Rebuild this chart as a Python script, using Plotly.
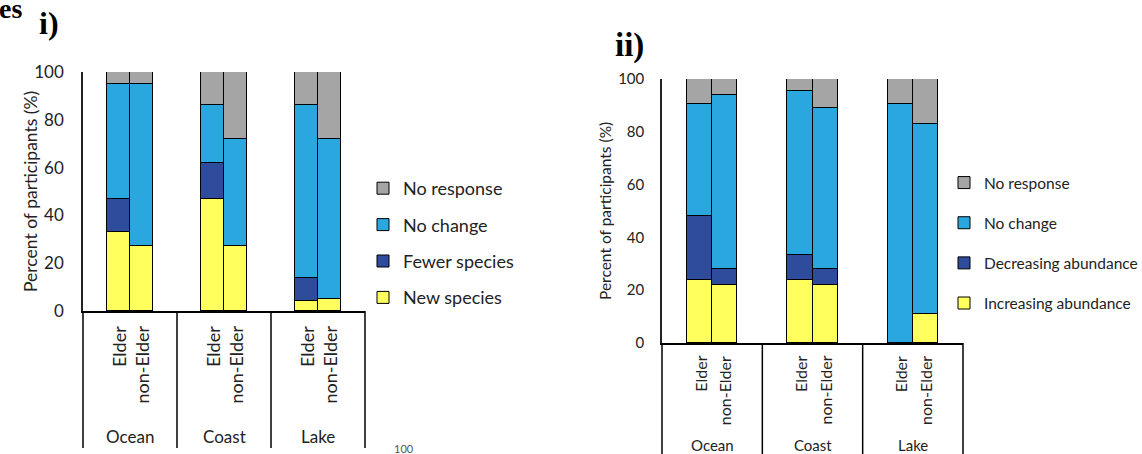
import plotly.graph_objects as go

W, H = 1142, 454

groups = ["Ocean", "Coast", "Lake"]
subgroups = ["Elder", "non-Elder"]

# Panel i values (order: Ocean E, Ocean nE, Coast E, Coast nE, Lake E, Lake nE)
i_new_species = [33, 27, 47, 27, 4, 5]
i_fewer_species = [14, 0, 15, 0, 10, 0]
i_no_change = [48, 68, 24, 45, 72, 67]
i_no_response = [5, 5, 14, 28, 14, 28]

# Panel ii values
ii_increasing = [24, 22, 24, 22, 0, 11]
ii_decreasing = [24, 6, 9.5, 6, 0, 0]
ii_no_change = [42.5, 66, 62, 61, 90.5, 72]
ii_no_response = [9.5, 6, 4.5, 11, 9.5, 17]

c_yellow = "#FFFF5E"
c_light = "#29A7DE"
c_dark = "#2F4C9C"
c_gray = "#A5A5A5"

FONT = "Lato"
TXT = "#222222"

def fx(p):
    return p / W

def fy(p):
    return 1 - p / H

# panel geometry (pixels)
P1 = dict(x0=83, x1=365, y0=72, y1=311, bw=0.245)
P2 = dict(x0=662, x1=963, y0=79, y1=343, bw=0.25)

fig = go.Figure()

def xpos(bw):
    xs = []
    for g in range(len(groups)):
        xs.append(g + 0.5 - bw / 2)
        xs.append(g + 0.5 + bw / 2)
    return xs

def add_panel(series, names, colors, xa, ya, legend, bw):
    xs = xpos(bw)
    n = len(series)
    for k, (vals, name, col) in enumerate(zip(series, names, colors)):
        fig.add_trace(go.Bar(
            x=xs, y=vals, name=name, width=bw,
            marker=dict(color=col, line=dict(color="black", width=1)),
            xaxis=xa, yaxis=ya, legend=legend, legendgroup=legend + name,
            legendrank=n - k, hoverinfo="skip",
        ))

add_panel([i_new_species, i_fewer_species, i_no_change, i_no_response],
          ["New species", "Fewer species", "No change", "No response"],
          [c_yellow, c_dark, c_light, c_gray], "x", "y", "legend", P1["bw"])
add_panel([ii_increasing, ii_decreasing, ii_no_change, ii_no_response],
          ["Increasing abundance", "Decreasing abundance", "No change", "No response"],
          [c_yellow, c_dark, c_light, c_gray], "x2", "y2", "legend2", P2["bw"])

def xaxis_cfg(P, anchor):
    return dict(domain=[fx(P["x0"]), fx(P["x1"])], range=[0, 3], showgrid=False,
                zeroline=False, showticklabels=False, ticks="", showline=True,
                linecolor="black", linewidth=1.5, fixedrange=True, anchor=anchor)

def yaxis_cfg(P, size, standoff, anchor):
    return dict(domain=[fy(P["y1"]), fy(P["y0"])], range=[0, 100], showgrid=False,
                zeroline=False, tickvals=[0, 20, 40, 60, 80, 100], ticks="",
                showline=True, linecolor="#222222", linewidth=1.5, anchor=anchor,
                tickfont=dict(family=FONT, size=size, color=TXT),
                ticklabelstandoff=standoff, fixedrange=True)

shapes = []
annotations = []

def decorate(P, xref, ybottom, lab_top, grp_y, lab_size, grp_size, bw):
    x0, x1 = P["x0"], P["x1"]
    gw = (x1 - x0) / 3
    for g in range(4):
        xp = x0 + g * gw
        shapes.append(dict(type="line", xref="paper", yref="paper",
                           x0=fx(xp), x1=fx(xp), y0=fy(P["y1"]), y1=fy(ybottom),
                           line=dict(color="black", width=1.5)))
    xs = xpos(bw)
    for k, x in enumerate(xs):
        annotations.append(dict(x=x, y=fy(lab_top), xref=xref, yref="paper",
                                text=subgroups[k % 2], textangle=-90, showarrow=False,
                                xanchor="center", yanchor="top",
                                font=dict(family=FONT, size=lab_size, color=TXT)))
    for g, name in enumerate(groups):
        annotations.append(dict(x=g + 0.5, y=fy(grp_y), xref=xref, yref="paper",
                                text=name, showarrow=False, xanchor="center", yanchor="middle",
                                font=dict(family=FONT, size=grp_size, color=TXT)))

decorate(P1, "x", 448, 324, 436, 18, 17, P1["bw"])
decorate(P2, "x2", 460, 354, 445, 16, 15, P2["bw"])

# y axis titles
annotations.append(dict(x=fx(18), y=fy(191.5), xref="paper", yref="paper",
                        text="Percent of participants (%)", textangle=-90, showarrow=False,
                        font=dict(family=FONT, size=17.5, color=TXT)))
annotations.append(dict(x=fx(605), y=fy(211), xref="paper", yref="paper",
                        text="Percent of participants (%)", textangle=-90, showarrow=False,
                        font=dict(family=FONT, size=15.5, color=TXT)))
# panel labels
annotations.append(dict(x=fx(37), y=fy(23), xref="paper", yref="paper", text="<b>i)</b>",
                        showarrow=False, xanchor="left", yanchor="middle",
                        font=dict(family="Liberation Serif", size=32, color="black")))
annotations.append(dict(x=fx(613), y=fy(45), xref="paper", yref="paper", text="<b>ii)</b>",
                        showarrow=False, xanchor="left", yanchor="middle",
                        font=dict(family="Liberation Serif", size=33, color="black")))
annotations.append(dict(x=fx(-3), y=fy(8), xref="paper", yref="paper", text="<b>es</b>",
                        showarrow=False, xanchor="left", yanchor="middle",
                        font=dict(family="Liberation Serif", size=28, color="black")))
annotations.append(dict(x=fx(404), y=fy(448), xref="paper", yref="paper", text="100",
                        showarrow=False, xanchor="center", yanchor="middle",
                        font=dict(family=FONT, size=11, color="#555555")))

fig.update_layout(
    width=W, height=H, margin=dict(l=0, r=0, t=0, b=0, autoexpand=False),
    paper_bgcolor="white", plot_bgcolor="white",
    barmode="stack", bargap=0,
    xaxis=xaxis_cfg(P1, "y"), xaxis2=xaxis_cfg(P2, "y2"),
    yaxis=yaxis_cfg(P1, 17, 14, "x"), yaxis2=yaxis_cfg(P2, 15, 13, "x2"),
    legend=dict(x=fx(363), y=fy(170), xanchor="left", yanchor="top",
                traceorder="grouped", tracegroupgap=10, itemwidth=30,
                font=dict(family=FONT, size=18, color=TXT), bgcolor="rgba(0,0,0,0)"),
    legend2=dict(x=fx(944), y=fy(166), xanchor="left", yanchor="top",
                 traceorder="grouped", tracegroupgap=17, itemwidth=30,
                 font=dict(family=FONT, size=15.5, color=TXT), bgcolor="rgba(0,0,0,0)"),
    shapes=shapes, annotations=annotations, showlegend=True,
)

fig.write_html("out.html", config={"displayModeBar": False, "staticPlot": False},
               post_script="document.body.style.margin='0';document.body.style.overflow='hidden';")
